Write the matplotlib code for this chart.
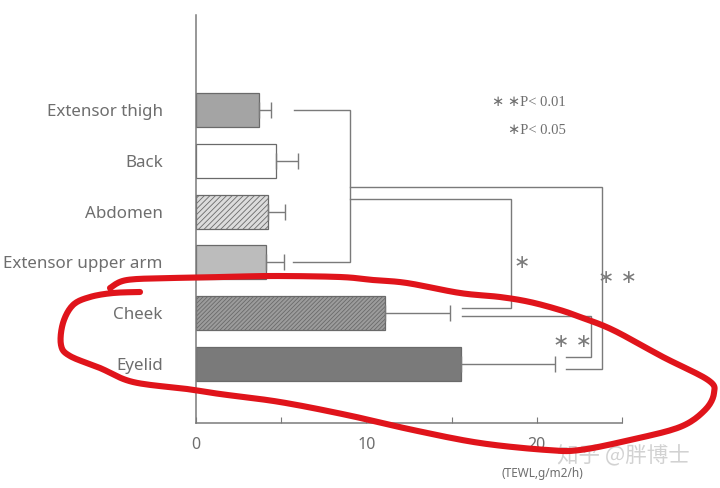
import numpy as np
import matplotlib
matplotlib.use("Agg")
import matplotlib.pyplot as plt

# TEWL by body site (g/m2/h): mean and upper SD
sites = ["Extensor thigh", "Back", "Abdomen", "Extensor upper arm", "Cheek", "Eyelid"]
means = [3.7, 4.7, 4.2, 4.1, 11.1, 15.55]
sds = [0.7, 1.3, 1.0, 1.05, 3.8, 5.5]

x_ticks = [0, 5, 10, 15, 20, 25]
x_tick_labels = ["0", "", "10", "", "20", ""]

face_colors = ["#a4a4a4", "#ffffff", "#dcdcdc", "#bcbcbc", "#9c9c9c", "#7a7a7a"]
hatches = [None, None, "//////", None, "////////", None]

GREY = "#7a7a7a"
TEXT = "#6e6e6e"

plt.rcParams["hatch.color"] = "#707070"
plt.rcParams["hatch.linewidth"] = 0.6

W, H = 720, 488
fig = plt.figure(figsize=(W / 100, H / 100), dpi=100)
ax = fig.add_axes([196 / W, 1 - 423 / H, 426 / W, (423 - 15) / H])

pos = np.arange(len(sites))
for i, (m, fc, hc) in enumerate(zip(means, face_colors, hatches)):
    ax.barh(pos[i], m, height=0.67, color=fc, edgecolor="#6a6a6a",
            linewidth=0.9, hatch=hc, zorder=2)

ax.errorbar(means, pos, xerr=[np.zeros(len(sds)), sds], fmt="none",
            ecolor=GREY, elinewidth=1.0, capsize=6, capthick=1.0, zorder=3)

ax.set_xlim(0, 25)
ax.set_ylim(6.16, -1.87)
ax.set_xticks(x_ticks)
ax.set_xticklabels(x_tick_labels)
ax.tick_params(axis="x", direction="in", length=4, color=GREY,
               labelsize=11.5, labelcolor=TEXT, pad=10)
ax.set_yticks(pos)
ax.set_yticklabels(sites)
ax.tick_params(axis="y", length=0, pad=24, labelsize=12.2, labelcolor=TEXT)
for lab in ax.get_yticklabels() + ax.get_xticklabels():
    lab.set_family("Noto Sans")
for s in ["top", "right"]:
    ax.spines[s].set_visible(False)
for s in ["left", "bottom"]:
    ax.spines[s].set_color(GREY)
    ax.spines[s].set_linewidth(1.1)

# significance brackets
def seg(xs, ys):
    ax.plot(xs, ys, color=GREY, lw=1.0, clip_on=False, zorder=4,
            solid_joinstyle="miter")

seg([5.75, 9.03, 9.03, 5.7], [0, 0, 3, 3])
seg([9.03, 23.8, 23.8, 21.7], [1.51, 1.51, 5.1, 5.1])
seg([9.03, 18.5, 18.5, 15.6], [1.75, 1.75, 3.89, 3.89])
seg([15.6, 23.2, 23.2, 21.7], [4.05, 4.05, 4.86, 4.86])

star_kw = dict(color=GREY, fontsize=14, ha="center", va="center",
               family=["DejaVu Sans"], clip_on=False)
ax.text(19.1, 3.0, "∗", **star_kw)
ax.text(24.75, 3.3, "∗ ∗", **star_kw)
ax.text(22.1, 4.55, "∗ ∗", **star_kw)

leg_kw = dict(color=TEXT, fontsize=10.5, ha="left", va="center",
              family=["Liberation Serif", "DejaVu Sans"])
ax.text(17.4, -0.14, "∗ ∗P< 0.01", **leg_kw)
ax.text(18.3, 0.41, "∗P< 0.05", **leg_kw)

fig.text(542 / W, 1 - 473 / H, "(TEWL,g/m2/h)", ha="center", va="center",
         fontsize=8.5, color=TEXT, family="Noto Sans")

# site watermark
fig.text(623 / W, 1 - 456 / H, "知乎 @胖博士", ha="center", va="center",
         fontsize=15.5, color="#d2d2d2",
         family=["Noto Sans CJK SC", "DejaVu Sans"])

# hand-drawn highlight loop (pixel coordinates of the figure)
loop = np.array([
    (140, 292), (113, 293), (90, 297), (73, 305), (63, 323), (61, 345),
    (70, 356), (100, 368), (133, 382), (187, 389), (220, 394), (280, 402),
    (347, 415), (413, 430), (480, 443), (547, 450), (580, 450), (630, 440),
    (680, 427), (705, 410), (714, 393), (708, 380), (663, 357), (613, 330),
    (580, 317), (560, 310), (530, 302), (500, 297), (460, 293), (407, 283),
    (373, 280), (340, 277), (273, 276), (223, 277), (173, 278), (127, 280),
    (110, 288)], dtype=float)


def catmull(pts, n=12):
    out = []
    p = np.vstack([pts[0], pts, pts[-1]])
    for k in range(1, len(p) - 2):
        p0, p1, p2, p3 = p[k - 1], p[k], p[k + 1], p[k + 2]
        for t in np.linspace(0, 1, n, endpoint=False):
            t2, t3 = t * t, t * t * t
            out.append(0.5 * ((2 * p1) + (-p0 + p2) * t +
                              (2 * p0 - 5 * p1 + 4 * p2 - p3) * t2 +
                              (-p0 + 3 * p1 - 3 * p2 + p3) * t3))
    out.append(pts[-1])
    return np.array(out)


curve = catmull(loop)
fig.add_artist(plt.Line2D(curve[:, 0] / W, 1 - curve[:, 1] / H,
                          transform=fig.transFigure, color="#e0141b",
                          lw=4.4, solid_capstyle="round",
                          solid_joinstyle="round", zorder=10))

fig.savefig("out.png", dpi=100, facecolor="white")
